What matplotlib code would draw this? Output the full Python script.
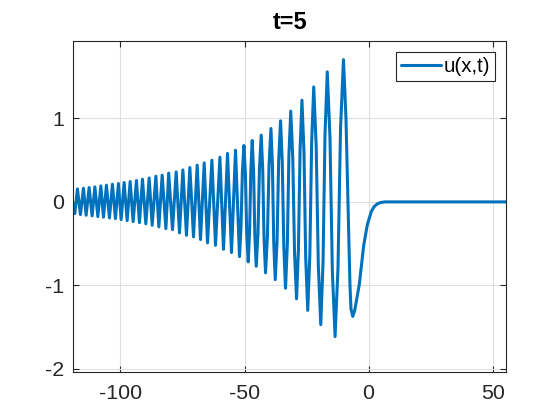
import matplotlib
matplotlib.use("Agg")
import matplotlib.pyplot as plt
import numpy as np

plt.rcParams["font.family"] = ["Liberation Sans", "DejaVu Sans"]
plt.rcParams["axes.unicode_minus"] = False

title_text = "t=5"
legend_label = "u(x,t)"
x_ticks = [-100, -50, 0, 50]
y_ticks = [-2, -1, 0, 1]

# local maxima of the wave train
peak_x = [-117.34, -114.92, -112.62, -110.32, -107.90, -105.65, -103.23, -100.81,
          -98.51, -96.09, -93.55, -91.13, -88.43, -85.73, -83.19, -80.56,
          -77.54, -74.84, -72.02, -69.07, -66.25, -63.15, -59.92, -56.85,
          -53.63, -50.24, -46.90, -43.27, -39.35, -35.48, -31.37, -26.85,
          -22.10, -16.65, -10.12]
peak_y = [0.156, 0.164, 0.172, 0.180, 0.192, 0.200, 0.212, 0.220,
          0.232, 0.244, 0.256, 0.272, 0.287, 0.308, 0.320, 0.344,
          0.359, 0.383, 0.412, 0.440, 0.467, 0.499, 0.535, 0.580,
          0.619, 0.675, 0.735, 0.799, 0.879, 0.971, 1.086, 1.218,
          1.376, 1.557, 1.703]

# local minima of the wave train
trough_x = [-118.39, -116.13, -113.83, -111.41, -109.11, -106.85, -104.44, -102.02,
            -99.72, -97.30, -94.88, -92.34, -89.76, -87.22, -84.52, -81.69,
            -79.03, -76.21, -73.39, -70.56, -67.74, -64.92, -61.69, -58.47,
            -55.24, -52.02, -48.51, -45.28, -41.53, -37.62, -33.47, -29.03,
            -24.52, -19.27, -13.51, -6.37]
trough_y = [-0.140, -0.152, -0.160, -0.168, -0.176, -0.184, -0.192, -0.200,
            -0.212, -0.224, -0.236, -0.248, -0.263, -0.280, -0.299, -0.320,
            -0.332, -0.371, -0.400, -0.419, -0.451, -0.491, -0.520, -0.568,
            -0.607, -0.655, -0.719, -0.771, -0.849, -0.931, -1.034, -1.160,
            -1.299, -1.470, -1.613, -1.371]

# flank samples of the larger oscillations (read where the curve bends)
flank_x = [-51.40, -50.86, -49.63, -49.12, -47.95, -47.46, -46.33, -45.85,
           -44.58, -43.97, -42.66, -42.14, -40.77, -40.11, -38.74, -38.23,
           -36.87, -36.23, -34.78, -34.17, -32.74, -32.11, -30.55, -29.85,
           -28.27, -27.61, -26.03, -25.34, -23.67, -22.95, -21.11, -20.26,
           -18.35, -17.57, -15.55, -14.61, -12.32, -11.31]
flank_y = [-0.286, 0.355, 0.326, -0.371, -0.355, 0.372, 0.358, -0.395,
           -0.378, 0.407, 0.387, -0.437, -0.417, 0.447, 0.426, -0.479,
           -0.455, 0.496, 0.470, -0.533, -0.504, 0.556, 0.524, -0.599,
           -0.565, 0.624, 0.589, -0.670, -0.630, 0.707, 0.664, -0.759,
           -0.713, 0.800, 0.764, -0.821, -0.784, 0.874]

# entry at the left edge, the leading front and the flat tail
extra_x = [-120.6, -9.11, -8.31, -7.50, -7.10, -5.60, -3.75, -1.94, -0.52,
           1.09, 2.20, 3.51, 5.00, 6.70, 56.0]
extra_y = [0.15, 1.00, 0.00, -1.00, -1.28, -1.30, -0.99, -0.515, -0.275,
           -0.116, -0.058, -0.024, -0.006, 0.0, 0.0]

x_all = np.concatenate([peak_x, trough_x, flank_x, extra_x])
y_all = np.concatenate([peak_y, trough_y, flank_y, extra_y])
order = np.argsort(x_all)
x_all = x_all[order]
y_all = y_all[order]

fig = plt.figure(figsize=(5.6, 4.2), dpi=100)
ax = fig.add_axes([0.1309, 0.1136, 0.7732, 0.7895])

ax.plot(x_all, y_all, color="#0072BD", lw=2.2, solid_joinstyle="round",
        solid_capstyle="round", label=legend_label)

ax.set_xlim(-119.0, 55.5)
ax.set_ylim(-2.04, 1.93)
ax.set_xticks(x_ticks)
ax.set_yticks(y_ticks)
ax.set_xticklabels([str(v) for v in x_ticks])
ax.set_yticklabels([str(v) for v in y_ticks])

ax.grid(True, color="#dfdfdf", lw=0.8)
ax.set_axisbelow(True)
for s in ax.spines.values():
    s.set_color("#262626")
    s.set_linewidth(0.8)
ax.tick_params(axis="both", direction="in", length=4.5, width=0.8,
               color="#262626", labelcolor="#262626", labelsize=15.4,
               top=True, right=True)
ax.tick_params(axis="x", pad=8.5)
ax.tick_params(axis="y", pad=6.5)

ax.set_title(title_text, fontsize=16.9, fontweight="bold", color="black", pad=8.2)

leg = ax.legend(loc="upper right", bbox_to_anchor=(0.9746, 0.9668),
                borderaxespad=0.0, fontsize=14.8, fancybox=False,
                framealpha=1.0, edgecolor="#262626", handlelength=1.95,
                handletextpad=0.12, borderpad=0.25)
leg.get_frame().set_linewidth(0.8)

fig.savefig("out.png", dpi=100, facecolor="white")
